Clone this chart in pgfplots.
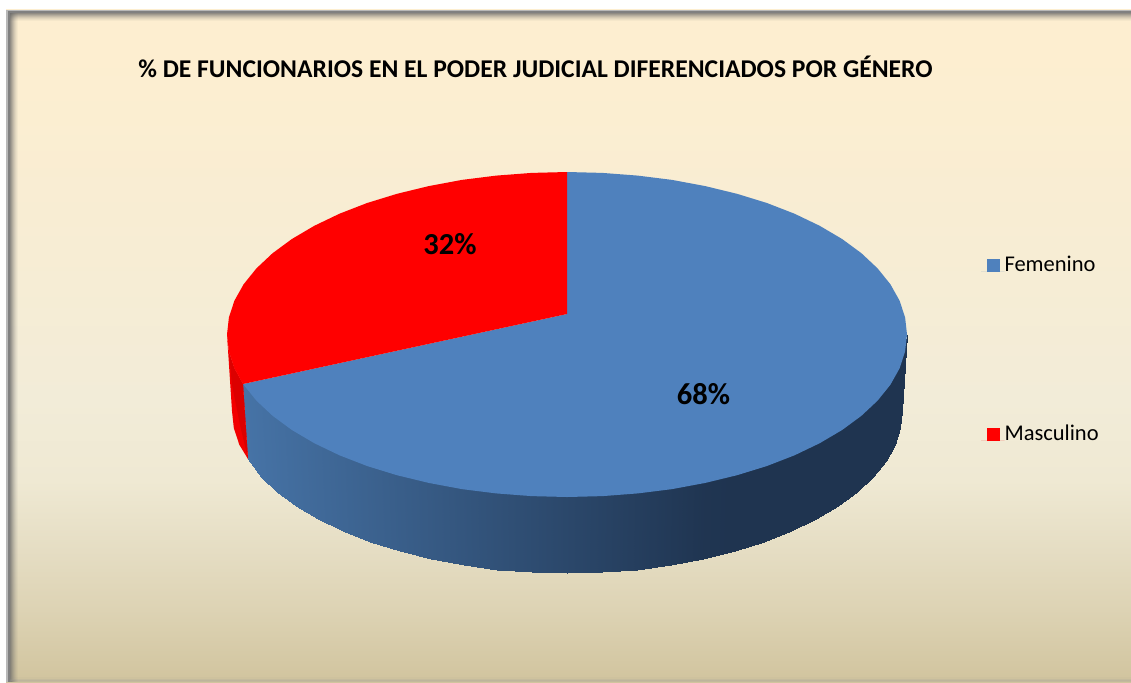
\documentclass[border=0pt]{standalone}
\usepackage{pgfplots}
\pgfplotsset{compat=1.18}
\usepackage{fontspec}
\setmainfont{Carlito}
\definecolor{fem}{HTML}{4F81BD}
\definecolor{mas}{HTML}{FF0000}
\definecolor{redwallc}{HTML}{F20000}
\definecolor{redwalld}{HTML}{DC0000}
\pgfdeclareverticalshading{chartbg}{100bp}{
 color(0bp)=(white);
 color(25bp)=(rgb,255:red,209;green,196;blue,158);
 color(30.4bp)=(rgb,255:red,221;green,211;blue,180);
 color(34.8bp)=(rgb,255:red,229;green,221;blue,195);
 color(40bp)=(rgb,255:red,239;green,233;blue,211);
 color(46bp)=(rgb,255:red,242;green,236;blue,216);
 color(57bp)=(rgb,255:red,247;green,237;blue,212);
 color(72bp)=(rgb,255:red,253;green,238;blue,208);
 color(75bp)=(rgb,255:red,253;green,238;blue,208);
 color(100bp)=(white)}
\begin{document}
\begin{tikzpicture}
\begin{scope}[x=1pt,y=-1pt]
\fill[white] (0,0) rectangle (1131,682);
\shade[shading=chartbg] (6,10) rectangle (1131,682);
% frame shadow
\fill[black!28] (6,10) rectangle (8,682);
\fill[black!28] (6,10) rectangle (1131,11);
\fill[black!50] (8,11) rectangle (10,682);
\fill[black!50] (8,11) rectangle (1131,13);
\foreach \i/\o in {0/0.72,1/0.60,2/0.48,3/0.37,4/0.27,5/0.18,6/0.11,7/0.05}{
  \fill[black!60,opacity=\o] ({10+\i},13) rectangle ({11+\i},682);
  \fill[black!60,opacity=\o] (10,{13+\i}) rectangle (1131,{14+\i});
  \fill[black!40,opacity=\o*0.35] (10,{681-\i*0.6}) rectangle (1131,{682-\i*0.6});
}
\end{scope}
\begin{axis}[
  at={(0,0)},anchor=north west,
  width=1131pt,height=682pt,scale only axis,
  xmin=0,xmax=1131,ymin=0,ymax=682,y dir=reverse,
  hide axis,clip=false,
  point meta min=0,point meta max=1,
  legend style={at={(axis cs:981,257)},anchor=north west,draw=none,fill=none,
    inner sep=0pt,outer sep=0pt,row sep=150pt,
    font=\fontsize{22.5}{22.5}\selectfont,
    nodes={inner sep=0pt,outer sep=0pt,anchor=base west,text height=14pt,text depth=5pt}},
  legend cell align=left,
  legend image code/.code={\fill[#1,draw=none] (6pt,-1pt) rectangle (19pt,12pt);\path[draw=none] (0pt,0pt) -- (23.5pt,0pt);},
]
% blue wall: top rim (tucked just under the slice), then bottom rim, with the share of shading
\addplot[surf,shader=interp,forget plot,mesh/rows=2,point meta=explicit,
  colormap={bluewall}{rgb255=(70,115,166) rgb255=(31,52,80)}] coordinates {
(907,334.5)[1] (905.1,348.5)[1] (899.6,365.3)[1] (890.4,381.7)[1] (877.6,397.6)[1]
(861.4,412.8)[1] (842.1,427)[1] (819.7,440.2)[1] (794.5,452.3)[1] (766.9,463)[1]
(737,472.2)[1] (705.3,479.9)[0.984] (672.1,486.1)[0.913] (637.7,490.4)[0.84]
(602.5,493.1)[0.765] (567,494)[0.689] (531.5,493.1)[0.614] (496.3,490.4)[0.539]
(461.9,486.1)[0.466] (428.7,479.9)[0.395] (397,472.2)[0.328] (367.1,463)[0.264]
(339.5,452.3)[0.205] (314.3,440.2)[0.152] (291.9,427)[0.104] (272.6,412.8)[0.063]
(256.4,397.6)[0.028] (243,384)[0]

(902,411)[1] (900.2,427.9)[1] (894.7,444.7)[1] (885.6,461.1)[1] (873,476.9)[1]
(857.1,492)[1] (838,506.2)[1] (815.9,519.4)[1] (791.1,531.4)[1] (763.9,542.1)[1]
(734.5,551.3)[1] (703.2,559)[0.984] (670.5,565.1)[0.913] (636.6,569.5)[0.84]
(602,572.1)[0.765] (567,573)[0.689] (532,572.1)[0.614] (497.4,569.5)[0.539]
(463.5,565.1)[0.466] (430.8,559)[0.395] (399.5,551.3)[0.328] (370.1,542.1)[0.264]
(342.9,531.4)[0.205] (318.1,519.4)[0.152] (296,506.2)[0.104] (276.9,492)[0.063]
(261,476.9)[0.028] (248,459)[0]
};
% red wall
\addplot[fill=redwallc,draw=none,forget plot] coordinates {
(243,384) (234.4,368.3) (228.9,351.5) (227,334.5) (232,411) (233.8,427.9) (239.3,444.7) (248,459)};
\addplot[fill=redwalld,draw=none,forget plot] coordinates {
(243,384) (234.4,368.3) (229,352) (232,385) (240,425) (248,459)};
% Femenino slice (68%)
\addplot[fill=fem,draw=none,no markers] coordinates {
(567,314) (567,172) (602.5,172.9) (637.7,175.6) (672.1,179.9) (705.3,186.1) (737,193.8)
(766.9,203) (794.5,213.7) (819.7,225.8) (842.1,239) (861.4,253.2) (877.6,268.4)
(890.4,284.3) (899.6,300.7) (905.1,317.5) (907,334.5) (905.1,351.5) (899.6,368.3)
(890.4,384.7) (877.6,400.6) (861.4,415.8) (842.1,430) (819.7,443.2) (794.5,455.3)
(766.9,466) (737,475.2) (705.3,482.9) (672.1,489.1) (637.7,493.4) (602.5,496.1)
(567,497) (531.5,496.1) (496.3,493.4) (461.9,489.1) (428.7,482.9) (397,475.2)
(367.1,466) (339.5,455.3) (314.3,443.2) (291.9,430) (272.6,415.8) (256.4,400.6) (243,384)};
\addlegendentry{Femenino}
% Masculino slice (32%)
\addplot[fill=mas,draw=none,no markers] coordinates {
(567,314) (243,384) (234.4,368.3) (228.9,351.5) (227,334.5) (228.9,317.5) (234.4,300.7)
(243.6,284.3) (256.4,268.4) (272.6,253.2) (291.9,239) (314.3,225.8) (339.5,213.7)
(367.1,203) (397,193.8) (428.7,186.1) (461.9,179.9) (496.3,175.6) (531.5,172.9) (567,172)};
\addlegendentry{Masculino}
\node[font=\fontsize{25.6}{27}\selectfont\bfseries,text=black] at (axis cs:535.5,67) {\% DE FUNCIONARIOS EN EL PODER JUDICIAL DIFERENCIADOS POR GÉNERO};
\node[font=\fontsize{30.5}{32}\selectfont\bfseries,text=black] at (axis cs:703.5,394) {68\%};
\node[font=\fontsize{30.5}{32}\selectfont\bfseries,text=black] at (axis cs:450,244) {32\%};
\end{axis}
\end{tikzpicture}
\end{document}
